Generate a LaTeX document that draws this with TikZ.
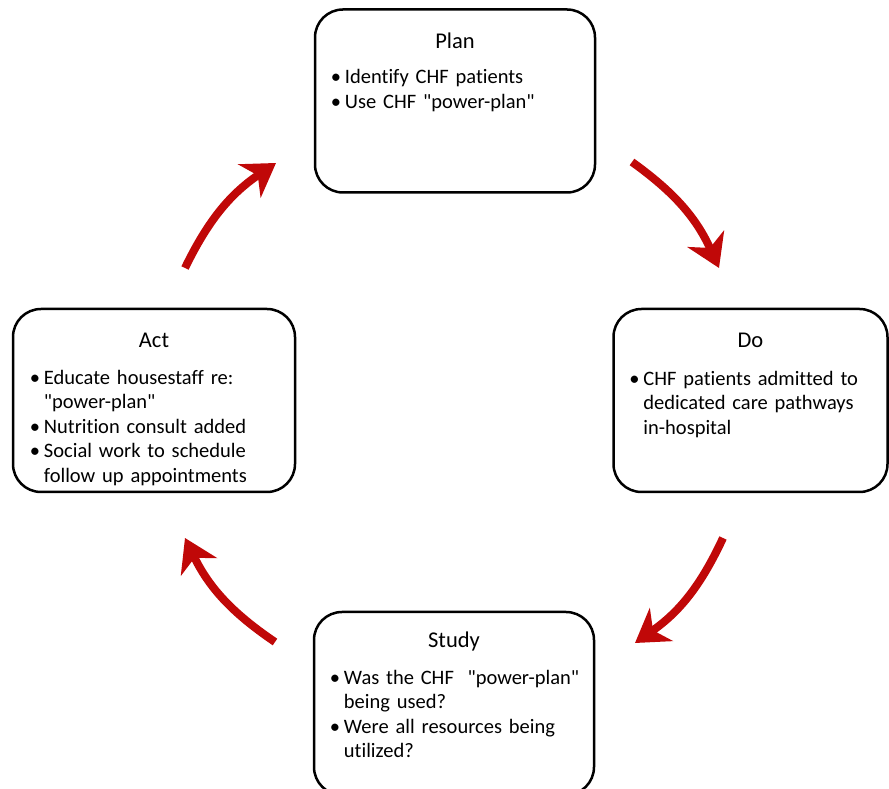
\documentclass[tikz,border=0pt]{standalone}
\usepackage{fontspec}
\setmainfont{Carlito}[Ligatures={TeXOff,CommonOff}]
\usetikzlibrary{arrows.meta,positioning}
\definecolor{pdsared}{RGB}{192,8,8}
\newcommand{\pdsaitem}[1]{\noindent\hangindent=14pt\hangafter=1\makebox[14pt][l]{\textbullet}#1\par}

\begin{document}
\begin{tikzpicture}[x=1pt,y=1pt,
  stagebox/.style={draw, line width=2.5pt, rounded corners=28pt, minimum width=280pt, minimum height=183pt},
  stagetitle/.style={anchor=base, inner sep=0pt, font=\fontsize{22.5}{26}\selectfont},
  stagebody/.style={anchor=north west, inner sep=0pt, text width=262pt, align=left, font=\fontsize{20.5}{24.5}\selectfont},
  cyclearrow/.style={draw=pdsared, line width=8pt, -{Stealth[length=32pt,width=40pt,inset=10pt]}, bend left=15}]
  \clip (0,0) rectangle (889,789);

  \node[stagebox] (plan) at (455,688) {};
  \node[stagetitle] (plantitle) at ([yshift=-40pt]plan.north) {Plan};
  \node[stagebody] (planbody) at ([xshift=17pt,yshift=-61pt]plan.north west)
    {\pdsaitem{Identify CHF patients}\pdsaitem{Use CHF "power-plan"}};

  \node[stagebox, minimum width=274pt] (do) at (750.5,388.5) {};
  \node[stagetitle] (dotitle) at ([yshift=-40pt]do.north) {Do};
  \node[stagebody] (dobody) at ([xshift=17pt,yshift=-63pt]do.north west)
    {\pdsaitem{CHF patients admitted to\newline dedicated care pathways\newline in-hospital}};

  \node[stagebox] (study) at (454,85.5) {};
  \node[stagetitle] (studytitle) at ([yshift=-37pt]study.north) {Study};
  \node[stagebody] (studybody) at ([xshift=17pt,yshift=-59pt]study.north west)
    {\pdsaitem{Was the CHF\ \ "power-plan"\newline being used?}\pdsaitem{Were all resources being\newline utilized?}};

  \node[stagebox, minimum width=282pt] (act) at (154,388.5) {};
  \node[stagetitle] (acttitle) at ([yshift=-40pt]act.north) {Act};
  \node[stagebody] (actbody) at ([xshift=18pt,yshift=-62pt]act.north west)
    {\pdsaitem{Educate housestaff re:\newline "power-plan"}\pdsaitem{Nutrition consult added}\pdsaitem{Social work to schedule\newline follow up appointments}};

  \coordinate (plandoA) at (632,627);
  \coordinate (plandoB) at (719,521);
  \coordinate (dostudyA) at (723,251);
  \coordinate (dostudyB) at (635,146);
  \coordinate (studyactA) at (275,147);
  \coordinate (studyactB) at (185,251);
  \coordinate (actplanA) at (185,521);
  \coordinate (actplanB) at (276,626);

  \draw[cyclearrow] (plandoA) to (plandoB);
  \draw[cyclearrow] (dostudyA) to (dostudyB);
  \draw[cyclearrow] (studyactA) to (studyactB);
  \draw[cyclearrow] (actplanA) to (actplanB);
\end{tikzpicture}
\end{document}
